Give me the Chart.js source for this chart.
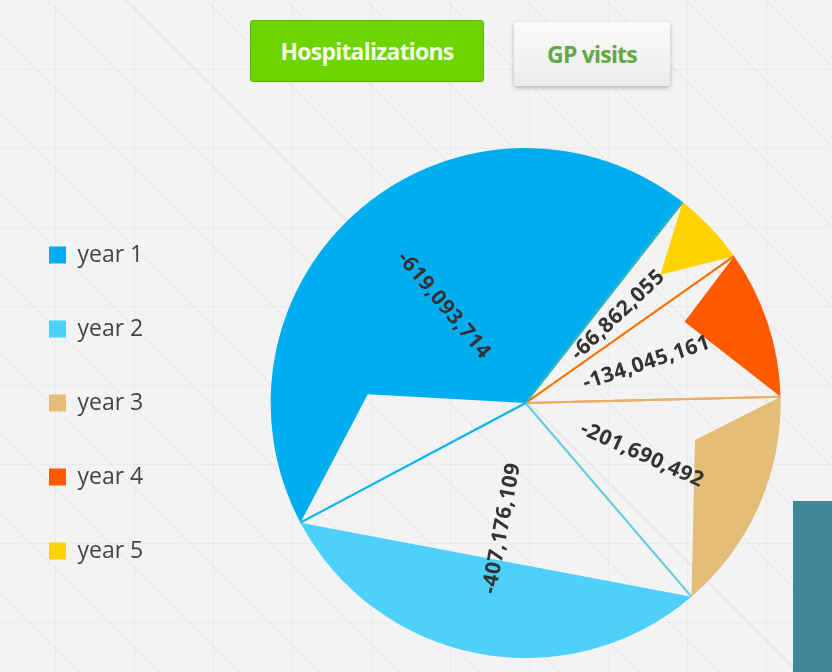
<!DOCTYPE html>
<html>
<head>
<meta charset="utf-8">
<script src="https://cdn.jsdelivr.net/npm/chart.js@4.4.0/dist/chart.umd.min.js"></script>
<style>
  html, body {
    margin: 0;
    padding: 0;
    width: 832px;
    height: 672px;
    overflow: hidden;
    font-family: 'Open Sans', sans-serif;
  }
  body {
    position: relative;
    background-color: #f3f3f3;
    background-image:
      repeating-linear-gradient(45deg, rgba(0,0,0,0) 0px, rgba(0,0,0,0) 55px, rgba(0,0,0,0.035) 55px, rgba(0,0,0,0.035) 56.5px),
      linear-gradient(90deg, rgba(0,0,0,0.03) 1px, transparent 1px),
      linear-gradient(0deg, rgba(0,0,0,0.03) 1px, transparent 1px);
    background-size: auto, 79px 79px, 79px 79px;
    background-position: 0 0, 55px 0, 0 70px;
  }
  .btn {
    position: absolute;
    box-sizing: border-box;
    display: flex;
    align-items: center;
    justify-content: center;
    font-weight: 700;
    font-size: 23px;
    letter-spacing: -0.8px;
    border-radius: 3px;
  }
  #hosp {
    left: 250px; top: 20px; width: 234px; height: 62px;
    background: #6dd400;
    border: 1px solid #5bb500;
    color: #f6ffe8;
  }
  #gp {
    left: 514px; top: 22px; width: 156px; height: 64px;
    background: linear-gradient(#fbfbfb, #ebebeb);
    box-shadow: 0 2px 4px rgba(0,0,0,0.25);
    color: #62a845;
  }
  #side {
    position: absolute;
    left: 793px; top: 501px; width: 39px; height: 171px;
    background: #3f889b;
  }
  #wrap {
    position: absolute;
    left: -2px; top: 148px; width: 900px; height: 510px;
  }
</style>
</head>
<body>
<div class="btn" id="hosp">Hospitalizations</div>
<div class="btn" id="gp">GP visits</div>
<div id="wrap"><canvas id="chart"></canvas></div>
<div id="side"></div>
<script>
// data, in legend order
const years = ['year 1', 'year 2', 'year 3', 'year 4', 'year 5'];
const hospitalizations = [-619093714, -407176109, -201690492, -134045161, -66862055];
const colors = ['#00aeef', '#4dd0fa', '#e4bd78', '#ff5a00', '#ffd200'];

// the old renderer left see-through wedges in every slice: [t along slice, r fraction], closeAtEnd
const glitch = [
  { pts: [[0.2, 0.62]], toEnd: false },
  { pts: [], toEnd: true },
  { pts: [[0.27, 0.68]], toEnd: true },
  { pts: [[0.24, 0.70]], toEnd: true },
  { pts: [[0.5, 0.73]], toEnd: true }
];

// the pie runs counter-clockwise, so feed it reversed and flip the legend back
const rev = (a) => a.slice().reverse();

function polar(cx, cy, a, r) {
  return [cx + Math.cos(a) * r, cy + Math.sin(a) * r];
}

const sliceExtras = {
  id: 'sliceExtras',
  beforeDatasetsDraw(chart) {
    const ctx = chart.ctx;
    const arcs = chart.getDatasetMeta(0).data;
    ctx.save();
    ctx.beginPath();
    ctx.rect(0, 0, chart.width, chart.height);
    arcs.forEach((arc, i) => {
      const g = rev(glitch)[i];
      const p = arc.getProps(['x', 'y', 'startAngle', 'endAngle', 'outerRadius'], true);
      const span = p.endAngle - p.startAngle;
      ctx.moveTo(p.x, p.y);
      ctx.lineTo(...polar(p.x, p.y, p.startAngle, p.outerRadius));
      g.pts.forEach(([t, r]) => {
        ctx.lineTo(...polar(p.x, p.y, p.startAngle + span * t, p.outerRadius * r));
      });
      if (g.toEnd) ctx.lineTo(...polar(p.x, p.y, p.endAngle, p.outerRadius));
      ctx.closePath();
    });
    ctx.clip('evenodd');
  },
  afterDatasetsDraw(chart) {
    const ctx = chart.ctx;
    ctx.restore();
    const arcs = chart.getDatasetMeta(0).data;
    const vals = chart.data.datasets[0].data;
    const cols = chart.data.datasets[0].backgroundColor;

    // thin radial seams
    ctx.save();
    ctx.lineWidth = 2;
    arcs.forEach((arc, i) => {
      const p = arc.getProps(['x', 'y', 'startAngle', 'endAngle', 'outerRadius'], true);
      ctx.strokeStyle = cols[i];
      ctx.globalAlpha = 0.85;
      [p.startAngle, p.endAngle].forEach((a) => {
        ctx.beginPath();
        ctx.moveTo(p.x, p.y);
        ctx.lineTo(...polar(p.x, p.y, a, p.outerRadius));
        ctx.stroke();
      });
    });
    ctx.restore();

    // value labels, turned along the slice
    ctx.save();
    ctx.font = '700 21px "Open Sans", sans-serif';
    ctx.fillStyle = '#333';
    ctx.textAlign = 'center';
    ctx.textBaseline = 'middle';
    ctx.letterSpacing = '0.5px';
    arcs.forEach((arc, i) => {
      const p = arc.getProps(['x', 'y', 'startAngle', 'endAngle', 'outerRadius'], true);
      let mid = (p.startAngle + p.endAngle) / 2;
      mid = Math.atan2(Math.sin(mid), Math.cos(mid));
      const [lx, ly] = polar(p.x, p.y, mid, p.outerRadius * 0.5);
      const rot = Math.abs(mid) > Math.PI / 2 ? mid + Math.PI : mid;
      ctx.save();
      ctx.translate(lx, ly);
      ctx.rotate(rot);
      ctx.fillText(vals[i].toLocaleString('en-US'), 0, 0);
      ctx.restore();
    });
    ctx.restore();
  }
};

Chart.defaults.font.family = '"Open Sans", sans-serif';

new Chart(document.getElementById('chart'), {
  type: 'pie',
  data: {
    labels: rev(years),
    datasets: [{
      data: rev(hospitalizations),
      backgroundColor: rev(colors),
      borderWidth: 0
    }]
  },
  options: {
    responsive: true,
    maintainAspectRatio: false,
    animation: false,
    rotation: 38,
    layout: { padding: 0 },
    plugins: {
      legend: {
        position: 'left',
        reverse: true,
        labels: {
          boxWidth: 17,
          boxHeight: 17,
          padding: 51,
          color: '#444',
          font: { size: 23 }
        }
      },
      tooltip: { enabled: false }
    }
  },
  plugins: [sliceExtras]
});
</script>
</body>
</html>
